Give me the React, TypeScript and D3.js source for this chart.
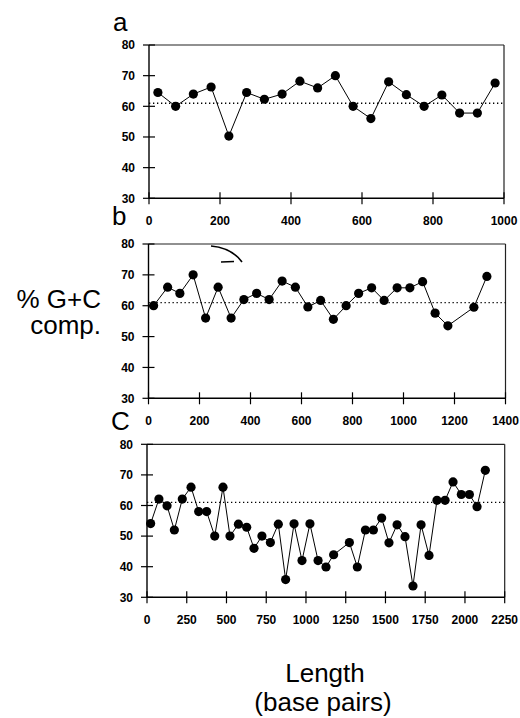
import React, { useEffect, useRef } from 'react';
import * as d3 from 'd3';

// % G+C composition, sampled every ~50 bp
const aX = [25, 75, 125, 175, 225, 275, 325, 375, 425, 475, 525, 575, 625, 675, 725, 775, 825, 875, 925, 975];
const aY = [64.5, 60, 64, 66.3, 50.3, 64.5, 62.3, 64, 68.2, 66, 70, 60, 56, 68, 63.8, 60, 63.7, 57.8, 57.8, 67.6];

const bX = [20, 75, 123, 175, 224, 273, 324, 374, 424, 473, 524, 576, 625, 675, 725, 775, 824, 875, 924, 975, 1025, 1075, 1124, 1174, 1276, 1327];
const bY = [60, 66, 64, 70, 56, 66, 56, 62, 64, 62, 68, 66, 59.6, 61.7, 55.6, 60, 64, 65.8, 61.7, 65.8, 65.8, 67.8, 57.6, 53.5, 59.5, 69.5];

const cX = [23, 75, 126, 172, 222, 277, 325, 375, 426, 478, 522, 575, 627, 673, 723, 776, 826, 872, 925, 975, 1025, 1076, 1126, 1174, 1273, 1323, 1374, 1424, 1476, 1522, 1573, 1623, 1673, 1724, 1774, 1824, 1875, 1925, 1977, 2028, 2076, 2128];
const cY = [54.1, 62.1, 59.9, 52, 62.1, 66, 58, 58, 50, 66, 50, 53.9, 52.9, 46, 50, 47.9, 53.9, 35.8, 54, 42, 54, 42, 39.9, 43.9, 47.9, 39.9, 52, 52, 55.9, 47.8, 53.7, 49.8, 33.7, 53.7, 43.7, 61.7, 61.7, 67.7, 63.6, 63.6, 59.6, 71.5];

const aTicks = [0, 200, 400, 600, 800, 1000];
const bTicks = [0, 200, 400, 600, 800, 1000, 1200, 1400];
const cTicks = [0, 250, 500, 750, 1000, 1250, 1500, 1750, 2000, 2250];
const yTicks = [30, 40, 50, 60, 70, 80];
const refLine = 61;

const App = () => {
  const svgRef = useRef(null);

  useEffect(() => {
    const svg = d3.select(svgRef.current);
    svg.selectAll("*").remove();

    const panels = [
      { label: "a", xs: aX, ys: aY, ticks: aTicks, max: 1000, x0: 149, x1: 504, top: 45, bottom: 198.3, lx: 113, ly: 31 },
      { label: "b", xs: bX, ys: bY, ticks: bTicks, max: 1400, x0: 148.5, x1: 505.5, top: 244, bottom: 398.3, lx: 112, ly: 225 },
      { label: "C", xs: cX, ys: cY, ticks: cTicks, max: 2250, x0: 147, x1: 504.7, top: 444.3, bottom: 597.3, lx: 111, ly: 430 },
    ];

    panels.forEach(p => {
      const x = d3.scaleLinear().domain([0, p.max]).range([p.x0, p.x1]);
      const y = d3.scaleLinear().domain([30, 80]).range([p.bottom, p.top]);
      const g = svg.append("g");

      // frame (top + right are lighter)
      g.append("line").attr("x1", x(0)).attr("x2", x(p.max)).attr("y1", y(80)).attr("y2", y(80))
        .attr("stroke", "#222").attr("stroke-width", 1.2);
      g.append("line").attr("x1", x(p.max)).attr("x2", x(p.max)).attr("y1", y(80)).attr("y2", y(30))
        .attr("stroke", "#222").attr("stroke-width", 1.2);
      g.append("line").attr("x1", x(0)).attr("x2", x(0)).attr("y1", y(80)).attr("y2", y(30))
        .attr("stroke", "#000").attr("stroke-width", 1.4);
      g.append("line").attr("x1", x(0)).attr("x2", x(p.max)).attr("y1", y(30)).attr("y2", y(30))
        .attr("stroke", "#000").attr("stroke-width", 1.4);

      // y ticks
      yTicks.forEach(t => {
        g.append("line").attr("x1", x(0) - 6).attr("x2", x(0) + 6).attr("y1", y(t)).attr("y2", y(t))
          .attr("stroke", "#000").attr("stroke-width", 1.2);
        g.append("text").attr("x", x(0) - 14).attr("y", y(t)).attr("dy", "0.36em")
          .attr("text-anchor", "end").attr("font-size", "12px").attr("font-weight", "bold")
          .attr("font-family", "Liberation Sans, Arial, sans-serif").text(t);
      });

      // x ticks
      p.ticks.forEach(t => {
        g.append("line").attr("x1", x(t)).attr("x2", x(t)).attr("y1", y(30) - 6).attr("y2", y(30) + 6)
          .attr("stroke", "#000").attr("stroke-width", 1.2);
        g.append("text").attr("x", x(t)).attr("y", y(30) + 27)
          .attr("text-anchor", "middle").attr("font-size", "12px").attr("font-weight", "bold")
          .attr("font-family", "Liberation Sans, Arial, sans-serif").text(t);
      });

      // mean reference line
      g.append("line").attr("x1", x(0)).attr("x2", x(p.max)).attr("y1", y(refLine)).attr("y2", y(refLine))
        .attr("stroke", "#000").attr("stroke-width", 1.3).attr("stroke-dasharray", "1.3,2.7");

      const pts = p.xs.map((v, i) => [v, p.ys[i]]);
      const line = d3.line().x(d => x(d[0])).y(d => y(d[1]));
      g.append("path").attr("d", line(pts)).attr("fill", "none")
        .attr("stroke", "#000").attr("stroke-width", 1);

      g.selectAll("circle.pt").data(pts).enter().append("circle")
        .attr("cx", d => x(d[0])).attr("cy", d => y(d[1])).attr("r", 4.6).attr("fill", "#000");

      // panel letter
      svg.append("text").attr("x", p.lx).attr("y", p.ly)
        .attr("font-size", "26px").attr("font-family", "Liberation Sans, Arial, sans-serif")
        .text(p.label);
    });

    // stray pen mark in panel b
    svg.append("path").attr("d", "M211,246 Q232,248 242,262").attr("fill", "none")
      .attr("stroke", "#000").attr("stroke-width", 1.6);
    svg.append("line").attr("x1", 221).attr("x2", 234).attr("y1", 262).attr("y2", 261.5)
      .attr("stroke", "#000").attr("stroke-width", 1.5);

    // axis titles
    const font = "Liberation Sans, Arial, sans-serif";
    svg.append("text").attr("x", 101).attr("y", 308).attr("text-anchor", "end")
      .attr("font-size", "26px").attr("font-family", font).text("% G+C");
    svg.append("text").attr("x", 101).attr("y", 334).attr("text-anchor", "end")
      .attr("font-size", "26px").attr("font-family", font).text("comp.");
    svg.append("text").attr("x", 325).attr("y", 682).attr("text-anchor", "middle")
      .attr("font-size", "26px").attr("font-family", font).text("Length");
    svg.append("text").attr("x", 323).attr("y", 711).attr("text-anchor", "middle")
      .attr("font-size", "26px").attr("font-family", font).text("(base pairs)");
  }, []);

  return (
    <div style={{ position: "absolute", left: 0, top: 0 }}>
      <svg ref={svgRef} width={520} height={718} style={{ display: "block", background: "#fff" }}></svg>
    </div>
  );
};

export default App;
